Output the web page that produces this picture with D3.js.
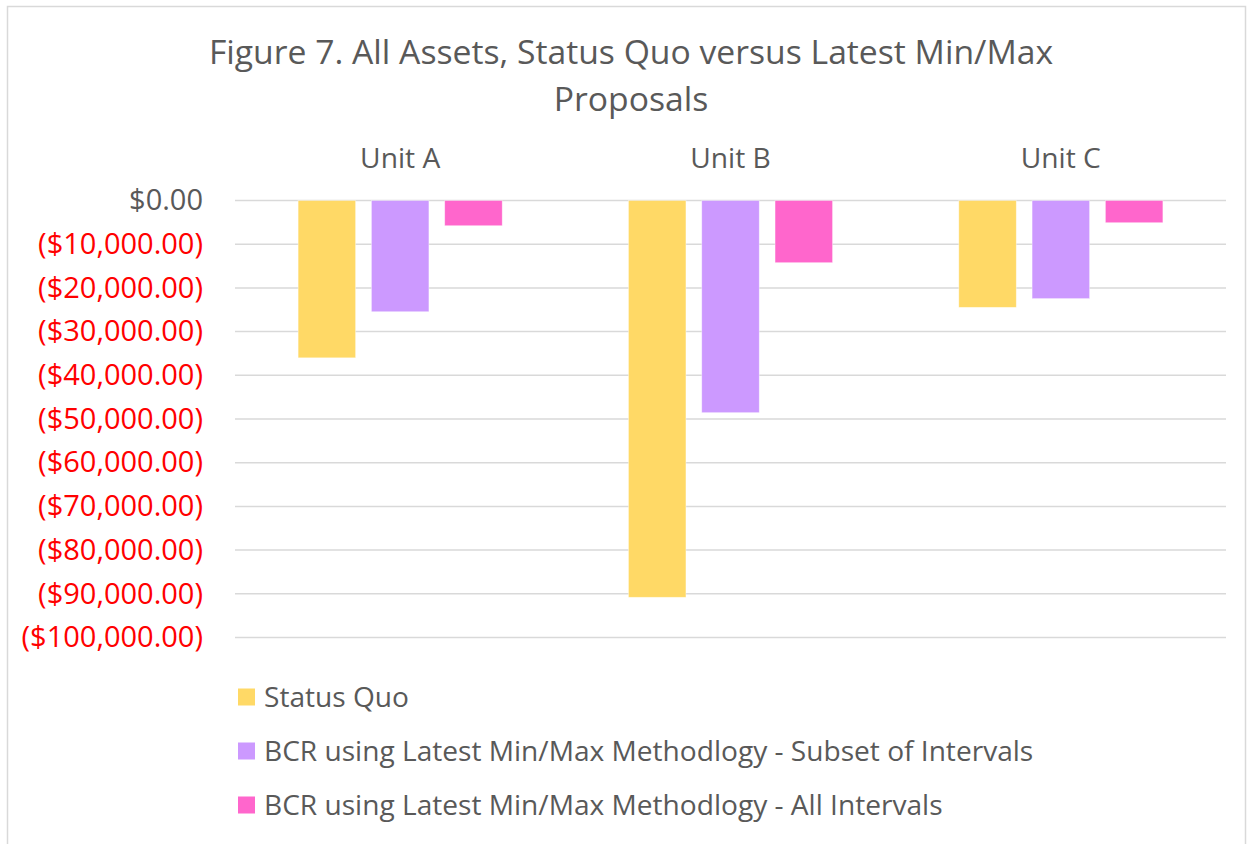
<!DOCTYPE html>
<html>
<head>
<meta charset="utf-8">
<script src="https://cdn.jsdelivr.net/npm/d3@7"></script>
<style>
  html, body { margin: 0; padding: 0; background: #fff; }
  svg { display: block; }
  text { font-family: "Open Sans", sans-serif; }
</style>
</head>
<body>
<svg id="chart" width="1253" height="844"></svg>
<script>
const categories = ["Unit A", "Unit B", "Unit C"];
const seriesNames = [
  "Status Quo",
  "BCR using Latest Min/Max Methodlogy - Subset of Intervals",
  "BCR using Latest Min/Max Methodlogy - All Intervals"
];
const statusQuo = [-36000, -90800, -24450];
const subsetIntervals = [-25450, -48550, -22450];
const allIntervals = [-5770, -14230, -5080];
const yTicks = [0, -10000, -20000, -30000, -40000, -50000, -60000, -70000, -80000, -90000, -100000];
const titleLines = ["Figure 7. All Assets, Status Quo versus Latest Min/Max", "Proposals"];

const colors = ["#FFD966", "#CC99FF", "#FF66CC"];
const seriesValues = [statusQuo, subsetIntervals, allIntervals];

const svg = d3.select("#chart");
const textColor = "#595959";

// outer border
svg.append("rect").attr("x", 7.5).attr("y", 6.5).attr("width", 1238).attr("height", 850)
  .attr("fill", "#fff").attr("stroke", "#d9d9d9").attr("stroke-width", 1.5);

const plotLeft = 235, plotRight = 1226, plotTop = 200.5, plotBottom = 637.5;

const x = d3.scaleBand().domain(categories).range([plotLeft, plotRight]).paddingInner(0).paddingOuter(0);
const y = d3.scaleLinear().domain([-100000, 0]).range([plotBottom, plotTop]);

// gridlines
svg.append("g").selectAll("line").data(yTicks).join("line")
  .attr("x1", plotLeft).attr("x2", plotRight)
  .attr("y1", d => y(d)).attr("y2", d => y(d))
  .attr("stroke", "#d9d9d9").attr("stroke-width", 1.5);

// y axis labels
const fmt = v => v === 0 ? "$0.00" : (v < 0 ? "($" + d3.format(",.2f")(-v) + ")" : "$" + d3.format(",.2f")(v));
const yAxis = d3.axisLeft(y).tickValues(yTicks).tickFormat(fmt).tickSize(0).tickPadding(0);
const yg = svg.append("g").attr("transform", `translate(203,0)`).call(yAxis);
yg.select(".domain").remove();
yg.selectAll("text")
  .attr("font-size", "29px")
  .attr("font-family", "'Open Sans', sans-serif")
  .attr("fill", d => d < 0 ? "#FF0000" : textColor);

// bars
const barW = 57.5, barStep = 73.3;
const groupW = barW + 2 * barStep;
const barsG = svg.append("g");
seriesValues.forEach((vals, si) => {
  barsG.selectAll(null).data(vals).join("rect")
    .attr("x", (d, i) => x(categories[i]) + x.bandwidth() / 2 - groupW / 2 + si * barStep)
    .attr("y", d => y(Math.max(0, d)))
    .attr("width", barW)
    .attr("height", d => Math.abs(y(d) - y(0)))
    .attr("fill", colors[si])
    .attr("stroke", "#fff").attr("stroke-opacity", 0.5).attr("stroke-width", 0.75);
});

// category labels at top
svg.append("g").selectAll("text").data(categories).join("text")
  .attr("x", d => x(d) + x.bandwidth() / 2)
  .attr("y", 158)
  .attr("dy", "0.35em")
  .attr("text-anchor", "middle")
  .attr("font-size", "28.2px")
  .attr("fill", textColor)
  .text(d => d);

// title
svg.append("g").selectAll("text").data(titleLines).join("text")
  .attr("x", 631)
  .attr("y", (d, i) => 52 + i * 47)
  .attr("dy", "0.35em")
  .attr("text-anchor", "middle")
  .attr("font-size", "33.7px")
  .attr("fill", textColor)
  .text(d => d);

// legend
const legend = svg.append("g");
const legendY = [697, 751, 805];
const lg = legend.selectAll("g").data(seriesNames).join("g")
  .attr("transform", (d, i) => `translate(238,${legendY[i]})`);
lg.append("rect").attr("x", 0).attr("y", -8.5).attr("width", 17).attr("height", 17)
  .attr("fill", (d, i) => colors[i]);
lg.append("text").attr("x", 26).attr("y", 0).attr("dy", "0.35em")
  .attr("font-size", "28.1px").attr("fill", textColor).text(d => d);
</script>
</body>
</html>
